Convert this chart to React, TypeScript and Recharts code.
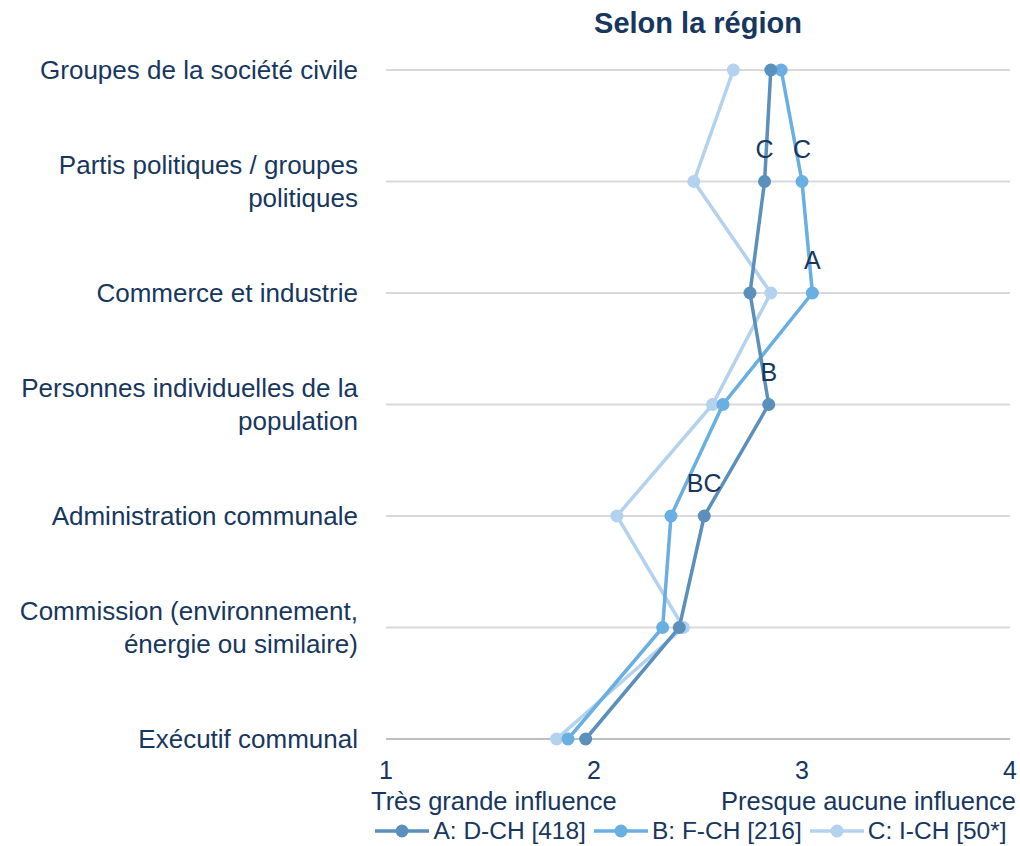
import React from 'react';
import { LineChart, Line, XAxis, YAxis, CartesianGrid, Legend, LabelList } from 'recharts';

const categories = [
  'Groupes de la société civile',
  'Partis politiques / groupes\npolitiques',
  'Commerce et industrie',
  'Personnes individuelles de la\npopulation',
  'Administration communale',
  'Commission (environnement,\nénergie ou similaire)',
  'Exécutif communal',
];

const seriesA = [2.85, 2.82, 2.75, 2.84, 2.53, 2.41, 1.96];
const seriesB = [2.9, 3.0, 3.05, 2.62, 2.37, 2.33, 1.875];
const seriesC = [2.67, 2.48, 2.85, 2.57, 2.11, 2.43, 1.82];

const labelsA = ['', 'C', '', 'B', 'BC', '', ''];
const labelsB = ['', 'C', 'A', '', '', '', ''];

const xTicks = [1, 2, 3, 4];
const xEndLabels: Record<number, string> = { 1: 'Très grande influence', 4: 'Presque aucune influence' };

const seriesNames = ['A: D-CH [418]', 'B: F-CH [216]', 'C: I-CH [50*]'];
const colors = ['#5b8fbc', '#6aafe2', '#b3d2ee'];
const textColor = '#17375e';
const font = '"Liberation Sans", Arial, sans-serif';

const data = categories.map((name, i) => ({
  name,
  a: seriesA[i],
  b: seriesB[i],
  c: seriesC[i],
  la: labelsA[i],
  lb: labelsB[i],
}));

const YTick = (props: any) => {
  const { x, y, payload } = props;
  const lines: string[] = String(payload.value).split('\n');
  const start = -((lines.length - 1) * 33) / 2;
  return (
    <text x={x - 20} y={y} textAnchor="end" fill={textColor} fontSize={26} fontFamily={font}>
      {lines.map((l, i) => (
        <tspan key={i} x={x - 20} dy={i === 0 ? start + 9 : 33}>
          {l}
        </tspan>
      ))}
    </text>
  );
};

const XTick = (props: any) => {
  const { x, y, payload } = props;
  const v = payload.value as number;
  const extra = xEndLabels[v];
  return (
    <g>
      <text x={x} y={y + 32} textAnchor="middle" fill={textColor} fontSize={25} fontFamily={font}>
        {v}
      </text>
      {extra && (
        <text
          x={v === 1 ? x - 15 : x + 6}
          y={y + 63}
          textAnchor={v === 1 ? 'start' : 'end'}
          fill={textColor}
          fontSize={25.5}
          fontFamily={font}
        >
          {extra}
        </text>
      )}
    </g>
  );
};

const LegendContent = () => (
  <div
    style={{
      display: 'flex',
      justifyContent: 'center',
      alignItems: 'center',
      height: 30,
      fontFamily: font,
      fontSize: 24.5,
      color: textColor,
      paddingLeft: 372,
    }}
  >
    {seriesNames.map((n, i) => (
      <div key={n} style={{ display: 'flex', alignItems: 'center', marginRight: i < 2 ? 8 : 0 }}>
        <svg width={54} height={16} style={{ marginRight: 4 }}>
          <line x1={0} y1={8} x2={54} y2={8} stroke={colors[i]} strokeWidth={3.5} />
          <circle cx={27} cy={8} r={6.5} fill={colors[i]} />
        </svg>
        <span>{n}</span>
      </div>
    ))}
  </div>
);

export default function App() {
  return (
    <div style={{ position: 'absolute', left: 0, top: 0, width: 1020, height: 846, background: '#fff' }}>
      <div
        style={{
          position: 'absolute',
          left: 386,
          width: 624,
          top: 7,
          textAlign: 'center',
          fontFamily: font,
          fontWeight: 'bold',
          fontSize: 29,
          color: textColor,
        }}
      >
        Selon la région
      </div>
      <LineChart
        width={1020}
        height={846}
        data={data}
        layout="vertical"
        margin={{ top: 70, right: 10, bottom: 0, left: 0 }}
      >
        <CartesianGrid vertical={false} stroke="#d9d9d9" strokeWidth={2} />
        <XAxis
          type="number"
          domain={[1, 4]}
          ticks={xTicks}
          height={77}
          axisLine={{ stroke: '#bfbfbf', strokeWidth: 2 }}
          tickLine={false}
          tick={<XTick />}
          interval={0}
        />
        <YAxis
          type="category"
          dataKey="name"
          scale="point"
          padding={{ top: 0, bottom: 0 }}
          width={386}
          axisLine={false}
          tickLine={false}
          tick={<YTick />}
          interval={0}
        />
        <Legend verticalAlign="bottom" height={30} content={<LegendContent />} />
        <Line dataKey="c" stroke={colors[2]} strokeWidth={3.5} dot={{ r: 6.5, fill: colors[2], stroke: 'none' }} isAnimationActive={false} />
        <Line dataKey="b" stroke={colors[1]} strokeWidth={3.5} dot={{ r: 6.5, fill: colors[1], stroke: 'none' }} isAnimationActive={false}>
          <LabelList dataKey="lb" position="top" offset={24} fill={textColor} fontSize={25} fontFamily={font} />
        </Line>
        <Line dataKey="a" stroke={colors[0]} strokeWidth={3.5} dot={{ r: 6.5, fill: colors[0], stroke: 'none' }} isAnimationActive={false}>
          <LabelList dataKey="la" position="top" offset={24} fill={textColor} fontSize={25} fontFamily={font} />
        </Line>
      </LineChart>
    </div>
  );
}
